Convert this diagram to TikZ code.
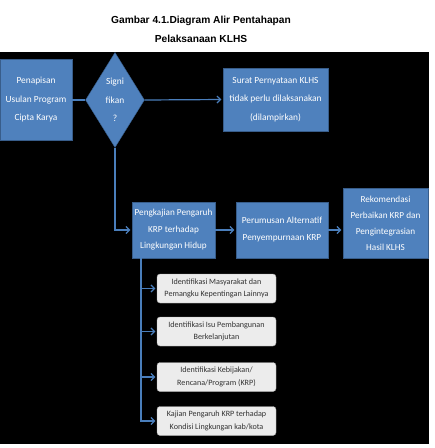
\documentclass[tikz,border=0pt]{standalone}
\usepackage{fontspec}
\setmainfont{Carlito}
\newfontfamily\titlefont{Liberation Sans}
\usetikzlibrary{shapes.geometric,arrows.meta}
\definecolor{klhsblue}{HTML}{4F81BD}
\definecolor{klhsedge}{HTML}{385D8A}
\definecolor{klhsline}{HTML}{4A7EBB}
\definecolor{klhsgrey}{HTML}{ECECEC}
\begin{document}
\begin{tikzpicture}[x=1pt,y=-1pt,
  bluebox/.style={draw=klhsedge,fill=klhsblue,text=white,align=center,inner sep=1pt,
    font=\fontsize{9.4}{18.5}\selectfont},
  greybox/.style={draw=gray!70,fill=klhsgrey,rounded corners=3pt,text=black!80,align=center,
    inner sep=1pt,minimum width=119pt,minimum height=29pt,font=\fontsize{8.1}{12.5}\selectfont},
  conn/.style={draw=klhsline,line width=1.2pt},
  arr/.style={conn,-{Straight Barb[length=3.5pt,width=7pt]},shorten >=1.5pt}]
\useasboundingbox (0,0) rectangle (435,448);
\fill[white] (0,0) rectangle (435,448);
\fill[black] (0,52) rectangle (429,444);
\node[font=\titlefont\bfseries\fontsize{10.2}{19}\selectfont,align=center] (title) at (201,29.5)
  {Gambar 4.1.Diagram Alir Pentahapan\\Pelaksanaan KLHS};
% alur utama
\node[bluebox,minimum width=72pt,minimum height=81pt] (penapisan) at (36,100)
  {Penapisan\\Usulan Program\\Cipta Karya};
\node[bluebox,diamond,aspect=0.62,inner sep=0pt,minimum width=59pt,minimum height=95pt] (signifikan) at (115,100)
  {Signi\\fikan\\?};
\node[bluebox,minimum width=105pt,minimum height=63pt] (surat) at (275.5,99.5)
  {Surat Pernyataan KLHS\\tidak perlu dilaksanakan\\(dilampirkan)};
\node[bluebox,minimum width=83pt,minimum height=56pt,font=\fontsize{9.2}{16.5}\selectfont] (pengkajian) at (173.5,230)
  {Pengkajian Pengaruh\\KRP terhadap\\Lingkungan Hidup};
\node[bluebox,minimum width=92pt,minimum height=56pt,font=\fontsize{9.3}{17}\selectfont] (perumusan) at (282,230)
  {Perumusan Alternatif\\Penyempurnaan KRP};
\node[bluebox,minimum width=85pt,minimum height=70pt,font=\fontsize{9.2}{16}\selectfont] (rekomendasi) at (385.5,223)
  {Rekomendasi\\Perbaikan KRP dan\\Pengintegrasian\\Hasil KLHS};
% langkah kajian
\node[greybox] (id1) at (216.5,288.5) {Identifikasi Masyarakat dan\\Pemangku Kepentingan Lainnya};
\node[greybox] (id2) at (216.5,331.5) {Identifikasi Isu Pembangunan\\Berkelanjutan};
\node[greybox] (id3) at (216.5,377) {Identifikasi Kebijakan/\\Rencana/Program (KRP)};
\node[greybox] (id4) at (216.5,421) {Kajian Pengaruh KRP terhadap\\Kondisi Lingkungan kab/kota};
\coordinate (trunk) at (141,258);
% penghubung
\draw[conn] (penapisan.east) -- (signifikan.west);
\draw[arr] (signifikan.east) -- (surat.west);
\draw[arr] (signifikan.south) |- (pengkajian.west);
\draw[arr] (pengkajian.east) -- (perumusan.west);
\draw[arr] (perumusan.east) -- (perumusan.east -| rekomendasi.west);
\foreach \n in {id1,id2,id3,id4}
  \draw[arr] (trunk) |- (\n.west);
\end{tikzpicture}
\end{document}
